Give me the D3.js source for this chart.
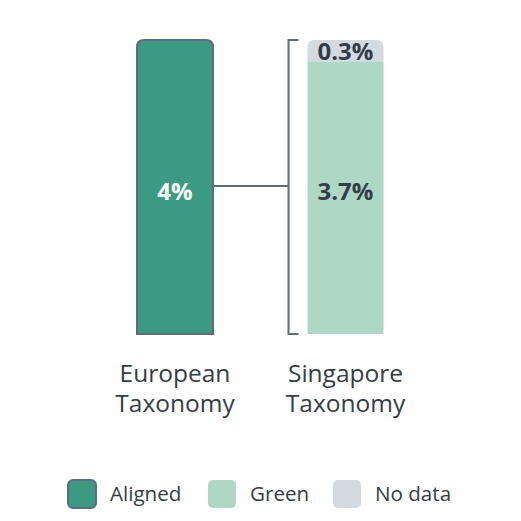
<!DOCTYPE html>
<html><head><meta charset="utf-8">
<script src="https://cdn.jsdelivr.net/npm/d3@7"></script>
<style>body{margin:0;background:#fff}svg{display:block}text{font-family:"Open Sans",sans-serif}</style>
</head><body><svg id="c" width="521" height="521"></svg>
<script>
const categories = [["European","Taxonomy"],["Singapore","Taxonomy"]];
const alignedValue = 4;
const singaporeValues = [{key:"Green", value:3.7},{key:"No data", value:0.3}];
const legendLabels = ["Aligned","Green","No data"];
const colors = {"Aligned":"#3a9b82","Green":"#aed8c6","No data":"#d3dae0"};
const stroke = "#5f6b7d";
const textColor = "#333d47";

const svg = d3.select("#c");
const y = d3.scaleLinear().domain([0,4]).range([334,40]);
const xs = d3.scalePoint().domain([0,1]).range([175,345.5]);
const bw = 76;

function topRounded(x0,x1,y0,y1,r){
  return `M${x0},${y1}V${y0+r}Q${x0},${y0} ${x0+r},${y0}H${x1-r}Q${x1},${y0} ${x1},${y0+r}V${y1}Z`;
}
const midY = 200;

// left bar
const L = xs(0)-bw/2, R = xs(0)+bw/2;
svg.append("path").attr("d", topRounded(L,R,y(alignedValue),y(0),7))
  .attr("fill",colors.Aligned).attr("stroke",stroke).attr("stroke-width",2);
svg.append("text").attr("x",xs(0)).attr("y",midY).attr("text-anchor","middle")
  .attr("fill","#fff").attr("font-weight",700).attr("font-size",24).text(alignedValue+"%");

// right stacked bar
const L2 = xs(1)-bw/2, R2 = xs(1)+bw/2;
let acc = 0;
const segs = singaporeValues.map(d=>{const s={...d,y0:acc,y1:acc+d.value}; acc+=d.value; return s;});
segs.forEach((s,i)=>{
  const isTop = i===segs.length-1;
  const p = isTop ? topRounded(L2,R2,y(s.y1),y(s.y0),7) : `M${L2},${y(s.y0)}V${y(s.y1)}H${R2}V${y(s.y0)}Z`;
  svg.append("path").attr("d",p).attr("fill",colors[s.key]);
});
svg.append("text").attr("x",xs(1)).attr("y",midY).attr("text-anchor","middle")
  .attr("fill",textColor).attr("font-weight",700).attr("font-size",24).text(segs[0].value+"%");
svg.append("text").attr("x",xs(1)).attr("y",(y(segs[1].y0)+y(segs[1].y1))/2+9).attr("text-anchor","middle")
  .attr("fill",textColor).attr("font-weight",700).attr("font-size",24).text(segs[1].value+"%");

// bracket
const bxL = L2-19, bxR = L2-9;
svg.append("path").attr("d",`M${bxR},${y(4)}H${bxL}V${y(0)}H${bxR}`)
  .attr("fill","none").attr("stroke",stroke).attr("stroke-width",2);
svg.append("line").attr("x1",R+1).attr("x2",bxL).attr("y1",186).attr("y2",186)
  .attr("stroke",stroke).attr("stroke-width",2);

// category labels
categories.forEach((c,i)=>{
  const t = svg.append("text").attr("x",xs(i)).attr("y",382).attr("text-anchor","middle")
    .attr("fill",textColor).attr("font-size",24.5);
  c.forEach((line,j)=>t.append("tspan").attr("x",xs(i)).attr("dy",j?30:0).text(line));
});

// legend
const lx = [68,208,333];
legendLabels.forEach((k,i)=>{
  svg.append("rect").attr("x",lx[i]).attr("y",480).attr("width",28).attr("height",28).attr("rx",5)
    .attr("fill",colors[k]).attr("stroke",k==="Aligned"?stroke:"none").attr("stroke-width",2);
  svg.append("text").attr("x",lx[i]+42).attr("y",501).attr("fill",textColor).attr("font-size",20.6).text(k);
});
</script></body></html>
